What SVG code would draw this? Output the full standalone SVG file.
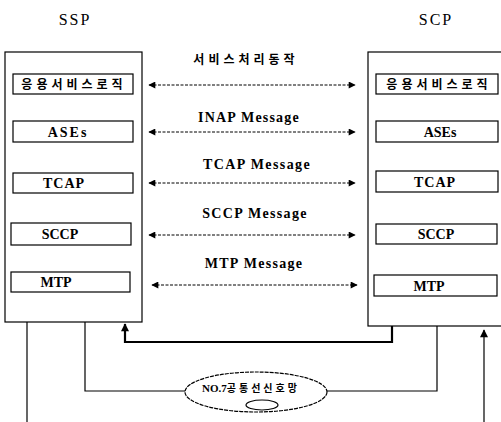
<svg xmlns="http://www.w3.org/2000/svg" width="501" height="422" viewBox="0 0 501 422">
<defs>
<marker id="ah" viewBox="0 0 10 10" refX="9" refY="5" markerWidth="10" markerHeight="7" markerUnits="userSpaceOnUse" orient="auto-start-reverse">
<path d="M0,0 L10,5 L0,10 z" fill="#000"/>
</marker>
<marker id="au" viewBox="0 0 10 10" refX="9" refY="5" markerWidth="12" markerHeight="8" markerUnits="userSpaceOnUse" orient="auto">
<path d="M0,0 L10,5 L0,10 z" fill="#000"/>
</marker>
</defs>
<style>
.bg{fill:#fff}
.frame{fill:#fff;stroke:#000;stroke-width:1.2}
.box{fill:#fff;stroke:#000;stroke-width:1.2}
.lat{font-family:"Liberation Serif","Times New Roman",serif;font-weight:bold;font-size:14px;fill:#000;text-anchor:middle}
.ttl{font-family:"Liberation Serif","Times New Roman",serif;font-size:16px;fill:#000;text-anchor:middle;letter-spacing:2px}
.kor{font-family:"Noto Sans CJK KR",sans-serif;font-weight:bold;font-size:12px;fill:#000;text-anchor:middle;letter-spacing:4px}
.msg{fill:none;stroke:#000;stroke-width:1;stroke-dasharray:3 1.5}
.wire{fill:none;stroke:#000;stroke-width:1.2}
.thick{fill:none;stroke:#000;stroke-width:2.2}
</style>
<rect class="bg" x="0" y="0" width="501" height="422"/>
<text class="ttl" x="75" y="25">SSP</text>
<text class="ttl" x="436" y="25">SCP</text>

<g id="ssp">
<rect class="frame" x="5" y="52" width="137" height="270"/>
</g>
<g id="ssp-app"><rect class="box" x="13" y="74" width="120" height="20"/><text class="kor" x="74" y="89">응용서비스로직</text></g>
<g id="ssp-ases"><rect class="box" x="13" y="121" width="120" height="21"/><text class="lat" x="68" y="137" letter-spacing="2">ASEs</text></g>
<g id="ssp-tcap"><rect class="box" x="13" y="173" width="120" height="20"/><text class="lat" x="64" y="188" letter-spacing="1">TCAP</text></g>
<g id="ssp-sccp"><rect class="box" x="11" y="223" width="120" height="22"/><text class="lat" x="60" y="239">SCCP</text></g>
<g id="ssp-mtp"><rect class="box" x="11" y="272" width="119" height="20"/><text class="lat" x="56" y="287">MTP</text></g>

<g id="scp">
<rect class="frame" x="368" y="52" width="140" height="274"/>
</g>
<g id="scp-app"><rect class="box" x="376" y="74" width="122" height="20"/><text class="kor" x="439" y="89">응용서비스로직</text></g>
<g id="scp-ases"><rect class="box" x="376" y="121" width="122" height="21"/><text class="lat" x="440" y="137">ASEs</text></g>
<g id="scp-tcap"><rect class="box" x="376" y="171" width="122" height="21"/><text class="lat" x="435" y="187" letter-spacing="1">TCAP</text></g>
<g id="scp-sccp"><rect class="box" x="376" y="224" width="121" height="20"/><text class="lat" x="436" y="239">SCCP</text></g>
<g id="scp-mtp"><rect class="box" x="374" y="275" width="123" height="21"/><text class="lat" x="429" y="291">MTP</text></g>

<g id="network">
<ellipse class="wire" cx="256" cy="392" rx="71" ry="20" stroke-dasharray="4 1"/>
<ellipse class="wire" cx="262" cy="405" rx="16" ry="5"/>
<text x="251" y="392" font-family="'Liberation Serif',serif" font-weight="bold" font-size="11" text-anchor="middle">NO.7<tspan font-family="'Noto Sans CJK KR',sans-serif" font-size="10" letter-spacing="3">공통선신호망</tspan></text>
</g>

<g id="connectors">
<line class="msg" x1="149" y1="85" x2="355" y2="85" marker-start="url(#ah)" marker-end="url(#ah)"/>
<line class="msg" x1="149" y1="132" x2="355" y2="132" marker-start="url(#ah)" marker-end="url(#ah)"/>
<line class="msg" x1="149" y1="183" x2="355" y2="183" marker-start="url(#ah)" marker-end="url(#ah)"/>
<line class="msg" x1="149" y1="235" x2="355" y2="235" marker-start="url(#ah)" marker-end="url(#ah)"/>
<line class="msg" x1="152" y1="285" x2="357" y2="285" marker-start="url(#ah)" marker-end="url(#ah)"/>
<text class="kor" x="246" y="64" font-size="12">서비스처리동작</text>
<text class="lat" x="249" y="122" letter-spacing="1.2">INAP Message</text>
<text class="lat" x="257" y="169" letter-spacing="1.4">TCAP Message</text>
<text class="lat" x="255" y="218" letter-spacing="1.3">SCCP Message</text>
<text class="lat" x="254" y="268" letter-spacing="1.3">MTP Message</text>
<line class="wire" x1="27" y1="322" x2="27" y2="422"/>
<polyline class="wire" points="85,322 85,391 185,391"/>
<polyline class="wire" points="327,391 437,391 437,326"/>
<polyline class="thick" points="392,326 392,342 125,342 125,324" marker-end="url(#au)"/>
<line class="wire" x1="484" y1="422" x2="484" y2="330" marker-end="url(#au)"/>
</g>
</svg>
